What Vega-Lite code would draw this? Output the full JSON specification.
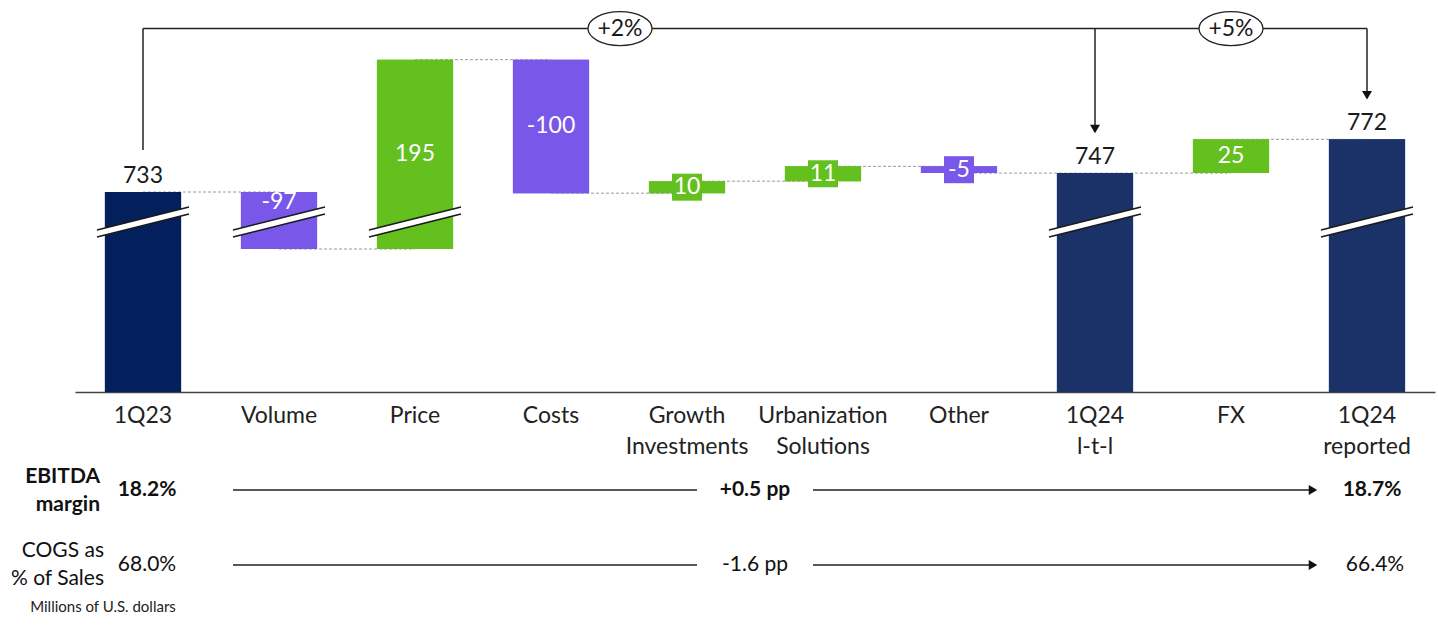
{
  "$schema": "https://vega.github.io/schema/vega-lite/v6.json",
  "width": 1360,
  "height": 392,
  "autosize": {"type": "none"},
  "padding": {"left": 75, "right": 3, "top": 0, "bottom": 234},
  "background": "white",
  "config": {"view": {"stroke": null}, "font": "Lato", "text": {"font": "Lato"}},
  "datasets": {
    "bars": [
      {"cat": "1Q23", "start": 0, "end": 733, "value": 733, "kind": "base", "next": "Volume", "broken": true},
      {"cat": "Volume", "start": 733, "end": 636, "value": -97, "kind": "decrease", "next": "Price", "broken": true},
      {"cat": "Price", "start": 636, "end": 831, "value": 195, "kind": "increase", "next": "Costs", "broken": true},
      {"cat": "Costs", "start": 831, "end": 731, "value": -100, "kind": "decrease", "next": "Growth Investments", "broken": false},
      {"cat": "Growth Investments", "start": 731, "end": 741, "value": 10, "kind": "increase", "next": "Urbanization Solutions", "broken": false},
      {"cat": "Urbanization Solutions", "start": 741, "end": 752, "value": 11, "kind": "increase", "next": "Other", "broken": false},
      {"cat": "Other", "start": 752, "end": 747, "value": -5, "kind": "decrease", "next": "1Q24 l-t-l", "broken": false},
      {"cat": "1Q24 l-t-l", "start": 0, "end": 747, "value": 747, "kind": "total", "next": "FX", "broken": true},
      {"cat": "FX", "start": 747, "end": 772, "value": 25, "kind": "increase", "next": "1Q24 reported", "broken": false},
      {"cat": "1Q24 reported", "start": 0, "end": 772, "value": 772, "kind": "total", "next": null, "broken": true}
    ],
    "growth": [
      {"from": "1Q23", "to": "1Q24 l-t-l", "label": "+2%"},
      {"from": "1Q24 l-t-l", "to": "1Q24 reported", "label": "+5%"}
    ],
    "table": [
      {"metric": "EBITDA", "row": "EBITDA\nmargin", "first": "18.2%", "change": "+0.5 pp", "last": "18.7%"},
      {"metric": "COGS", "row": "COGS as\n% of Sales", "first": "68.0%", "change": "-1.6 pp", "last": "66.4%"}
    ],
    "note": [{"text": "Millions of U.S. dollars"}]
  },
  "layer": [
    {
      "data": {"name": "bars"},
      "mark": {"type": "bar"},
      "encoding": {
        "x": {
          "field": "cat", "type": "nominal", "sort": null,
          "scale": {
            "domain": ["1Q23", "Volume", "Price", "Costs", "Growth Investments", "Urbanization Solutions", "Other", "1Q24 l-t-l", "FX", "1Q24 reported"],
            "paddingInner": 0.44, "paddingOuter": 0.22
          },
          "axis": {
            "title": null, "labelAngle": 0, "ticks": false, "domainColor": "#444", "domainWidth": 1.5,
            "labelFontSize": 23, "labelColor": "#222", "labelPadding": 12, "labelLineHeight": 31,
            "labelFont": "Lato", "labelExpr": "split(datum.label, ' ')"
          }
        },
        "y": {
          "field": "start", "type": "quantitative",
          "scale": {"domain": [0, 636, 733, 860], "range": [392, 249, 192, 20.5], "zero": false, "nice": false},
          "axis": null
        },
        "y2": {"field": "end"},
        "color": {
          "field": "kind", "type": "nominal",
          "scale": {"domain": ["base", "total", "increase", "decrease"], "range": ["#03205c", "#1b3269", "#64c01e", "#7957e9"]},
          "legend": null
        }
      }
    },
    {
      "data": {"name": "bars"},
      "transform": [{"filter": "datum.next != null"}],
      "mark": {"type": "rule", "strokeDash": [3, 2], "color": "#9c9c9c", "strokeWidth": 1},
      "encoding": {
        "x": {"field": "cat", "type": "nominal", "title": null},
        "x2": {"field": "next"},
        "y": {"field": "end", "type": "quantitative", "axis": null}
      }
    },
    {
      "data": {"name": "bars"},
      "mark": {"type": "bar"},
      "encoding": {
        "x": {"field": "cat", "type": "nominal", "title": null},
        "y": {"field": "start", "type": "quantitative", "axis": null},
        "y2": {"field": "end"},
        "color": {"field": "kind", "type": "nominal", "legend": null}
      }
    },
    {
      "data": {"name": "bars"},
      "transform": [{"filter": "datum.broken"}],
      "mark": {"type": "point", "shape": "M-1,0.174 L1,-0.326 L1,-0.174 L-1,0.326 Z", "size": 8464, "filled": true, "color": "white", "opacity": 1, "strokeWidth": 0},
      "encoding": {
        "x": {"field": "cat", "type": "nominal", "title": null},
        "y": {"datum": 682, "type": "quantitative", "axis": null}
      }
    },
    {
      "data": {"name": "bars"},
      "transform": [{"filter": "datum.broken"}],
      "mark": {"type": "point", "shape": "M-1,0.174 L1,-0.326 M-1,0.326 L1,-0.174", "size": 8464, "filled": false, "color": "#1a1a1a", "opacity": 1, "strokeWidth": 1.6},
      "encoding": {
        "x": {"field": "cat", "type": "nominal", "title": null},
        "y": {"datum": 682, "type": "quantitative", "axis": null}
      }
    },
    {
      "data": {"name": "bars"},
      "transform": [{"filter": "abs(datum.value) < 20"}],
      "mark": {"type": "point", "shape": "M-1,-0.9 L1,-0.9 L1,0.9 L-1,0.9 Z", "size": 900, "filled": true, "opacity": 1, "strokeWidth": 0},
      "encoding": {
        "x": {"field": "cat", "type": "nominal", "title": null},
        "y": {"value": {"expr": "(scale('y', datum.start) + scale('y', datum.end)) / 2"}},
        "color": {"field": "kind", "type": "nominal", "legend": null}
      }
    },
    {
      "data": {"name": "bars"},
      "transform": [{"filter": "datum.kind == 'increase' || (datum.kind == 'decrease' && !datum.broken)"}],
      "mark": {"type": "text", "color": "white", "fontSize": 23, "baseline": "middle", "align": "center"},
      "encoding": {
        "x": {"field": "cat", "type": "nominal", "title": null},
        "y": {"value": {"expr": "(scale('y', datum.start) + scale('y', datum.end)) / 2"}},
        "text": {"field": "value", "type": "nominal"}
      }
    },
    {
      "data": {"name": "bars"},
      "transform": [{"filter": "datum.kind == 'decrease' && datum.broken"}],
      "mark": {"type": "text", "color": "white", "fontSize": 23, "baseline": "middle", "align": "center", "yOffset": 10},
      "encoding": {
        "x": {"field": "cat", "type": "nominal", "title": null},
        "y": {"field": "start", "type": "quantitative", "axis": null},
        "text": {"field": "value", "type": "nominal"}
      }
    },
    {
      "data": {"name": "bars"},
      "transform": [{"filter": "datum.kind == 'base' || datum.kind == 'total'"}],
      "mark": {"type": "text", "color": "#1a1a1a", "fontSize": 23, "baseline": "alphabetic", "align": "center", "yOffset": -9},
      "encoding": {
        "x": {"field": "cat", "type": "nominal", "title": null},
        "y": {"field": "end", "type": "quantitative", "axis": null},
        "text": {"field": "value", "type": "nominal"}
      }
    },
    {
      "data": {"name": "bars"},
      "transform": [{"filter": "datum.kind == 'base' || datum.kind == 'total'"}],
      "mark": {"type": "rule", "color": "#222", "strokeWidth": 1.5, "yOffset": -42},
      "encoding": {
        "x": {"field": "cat", "type": "nominal", "title": null},
        "y": {"field": "end", "type": "quantitative", "axis": null},
        "y2": {"datum": 854}
      }
    },
    {
      "data": {"name": "bars"},
      "transform": [{"filter": "datum.kind == 'total'"}],
      "mark": {"type": "point", "shape": "M-1,-0.85 L1,-0.85 L0,0.85 Z", "size": 100, "filled": true, "color": "#111", "opacity": 1, "yOffset": -44},
      "encoding": {
        "x": {"field": "cat", "type": "nominal", "title": null},
        "y": {"field": "end", "type": "quantitative", "axis": null}
      }
    },
    {
      "data": {"name": "growth"},
      "mark": {"type": "rule", "color": "#222", "strokeWidth": 1.5},
      "encoding": {
        "x": {"field": "from", "type": "nominal", "title": null},
        "x2": {"field": "to"},
        "y": {"datum": 854, "type": "quantitative", "axis": null}
      }
    },
    {
      "data": {"name": "growth"},
      "transform": [{"filter": "datum.label == '+2%'"}],
      "encoding": {
        "x": {"datum": "Costs", "type": "nominal", "title": null},
        "y": {"datum": 854, "type": "quantitative", "axis": null}
      },
      "layer": [
        {"mark": {"type": "point", "xOffset": 69, "shape": "M-1,0 C-1,-0.29 -0.55,-0.53 0,-0.53 C0.55,-0.53 1,-0.29 1,0 C1,0.29 0.55,0.53 0,0.53 C-0.55,0.53 -1,0.29 -1,0 Z", "size": 4096, "filled": true, "fill": "white", "stroke": "#222", "strokeWidth": 1.3, "opacity": 1}},
        {"mark": {"type": "text", "xOffset": 69, "fontSize": 23, "color": "#1a1a1a", "baseline": "middle"}, "encoding": {"text": {"field": "label"}}}
      ]
    },
    {
      "data": {"name": "growth"},
      "transform": [{"filter": "datum.label == '+5%'"}],
      "encoding": {
        "x": {"datum": "FX", "type": "nominal", "title": null},
        "y": {"datum": 854, "type": "quantitative", "axis": null}
      },
      "layer": [
        {"mark": {"type": "point", "shape": "M-1,0 C-1,-0.29 -0.55,-0.53 0,-0.53 C0.55,-0.53 1,-0.29 1,0 C1,0.29 0.55,0.53 0,0.53 C-0.55,0.53 -1,0.29 -1,0 Z", "size": 4096, "filled": true, "fill": "white", "stroke": "#222", "strokeWidth": 1.3, "opacity": 1}},
        {"mark": {"type": "text", "fontSize": 23, "color": "#1a1a1a", "baseline": "middle"}, "encoding": {"text": {"field": "label"}}}
      ]
    },
    {
      "data": {"name": "table"},
      "transform": [{"filter": "datum.metric == 'EBITDA'"}],
      "encoding": {"y": {"datum": 0, "type": "quantitative", "axis": null}},
      "layer": [
        {"mark": {"type": "text", "align": "right", "baseline": "middle", "xOffset": -43, "yOffset": 85, "fontSize": 21, "fontWeight": "bold", "lineBreak": "\n", "lineHeight": 28, "color": "#111"},
         "encoding": {"x": {"datum": "1Q23", "type": "nominal", "title": null}, "text": {"field": "row"}}},
        {"mark": {"type": "text", "align": "center", "baseline": "middle", "xOffset": 4, "yOffset": 98, "fontSize": 21, "fontWeight": "bold", "color": "#111"},
         "encoding": {"x": {"datum": "1Q23", "type": "nominal", "title": null}, "text": {"field": "first"}}},
        {"mark": {"type": "text", "align": "center", "baseline": "middle", "xOffset": 68, "yOffset": 98, "fontSize": 21, "fontWeight": "bold", "color": "#111"},
         "encoding": {"x": {"datum": "Growth Investments", "type": "nominal", "title": null}, "text": {"field": "change"}}},
        {"mark": {"type": "text", "align": "center", "baseline": "middle", "xOffset": 5, "yOffset": 98, "fontSize": 21, "fontWeight": "bold", "color": "#111"},
         "encoding": {"x": {"datum": "1Q24 reported", "type": "nominal", "title": null}, "text": {"field": "last"}}},
        {"mark": {"type": "rule", "color": "#222", "strokeWidth": 1.5, "xOffset": -46, "x2Offset": 10, "yOffset": 98},
         "encoding": {"x": {"datum": "Volume", "type": "nominal", "title": null}, "x2": {"datum": "Growth Investments"}}},
        {"mark": {"type": "rule", "color": "#222", "strokeWidth": 1.5, "xOffset": -10, "x2Offset": -54, "yOffset": 98},
         "encoding": {"x": {"datum": "Urbanization Solutions", "type": "nominal", "title": null}, "x2": {"datum": "1Q24 reported"}}},
        {"mark": {"type": "point", "shape": "M-0.85,-1 L0.85,0 L-0.85,1 Z", "size": 100, "filled": true, "color": "#111", "opacity": 1, "xOffset": -54, "yOffset": 98},
         "encoding": {"x": {"datum": "1Q24 reported", "type": "nominal", "title": null}}}
      ]
    },
    {
      "data": {"name": "table"},
      "transform": [{"filter": "datum.metric == 'COGS'"}],
      "encoding": {"y": {"datum": 0, "type": "quantitative", "axis": null}},
      "layer": [
        {"mark": {"type": "text", "align": "right", "baseline": "middle", "xOffset": -39, "yOffset": 159, "fontSize": 21, "lineBreak": "\n", "lineHeight": 28, "color": "#111"},
         "encoding": {"x": {"datum": "1Q23", "type": "nominal", "title": null}, "text": {"field": "row"}}},
        {"mark": {"type": "text", "align": "center", "baseline": "middle", "xOffset": 4, "yOffset": 173, "fontSize": 21, "color": "#111"},
         "encoding": {"x": {"datum": "1Q23", "type": "nominal", "title": null}, "text": {"field": "first"}}},
        {"mark": {"type": "text", "align": "center", "baseline": "middle", "xOffset": 68, "yOffset": 173, "fontSize": 21, "color": "#111"},
         "encoding": {"x": {"datum": "Growth Investments", "type": "nominal", "title": null}, "text": {"field": "change"}}},
        {"mark": {"type": "text", "align": "center", "baseline": "middle", "xOffset": 8, "yOffset": 173, "fontSize": 21, "color": "#111"},
         "encoding": {"x": {"datum": "1Q24 reported", "type": "nominal", "title": null}, "text": {"field": "last"}}},
        {"mark": {"type": "rule", "color": "#222", "strokeWidth": 1.5, "xOffset": -46, "x2Offset": 10, "yOffset": 173},
         "encoding": {"x": {"datum": "Volume", "type": "nominal", "title": null}, "x2": {"datum": "Growth Investments"}}},
        {"mark": {"type": "rule", "color": "#222", "strokeWidth": 1.5, "xOffset": -10, "x2Offset": -54, "yOffset": 173},
         "encoding": {"x": {"datum": "Urbanization Solutions", "type": "nominal", "title": null}, "x2": {"datum": "1Q24 reported"}}},
        {"mark": {"type": "point", "shape": "M-0.85,-1 L0.85,0 L-0.85,1 Z", "size": 100, "filled": true, "color": "#111", "opacity": 1, "xOffset": -54, "yOffset": 173},
         "encoding": {"x": {"datum": "1Q24 reported", "type": "nominal", "title": null}}}
      ]
    },
    {
      "data": {"name": "note"},
      "mark": {"type": "text", "align": "center", "baseline": "middle", "xOffset": -40, "yOffset": 215, "fontSize": 15, "color": "#222"},
      "encoding": {
        "x": {"datum": "1Q23", "type": "nominal", "title": null},
        "y": {"datum": 0, "type": "quantitative", "axis": null},
        "text": {"field": "text"}
      }
    }
  ]
}
